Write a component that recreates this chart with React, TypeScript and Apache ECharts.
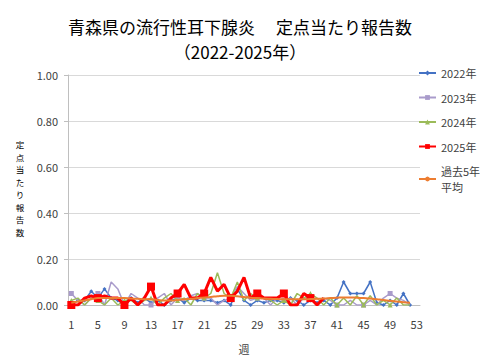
import React, { useEffect, useRef } from "react";
import * as echarts from "echarts";

const weeks: string[] = Array.from({ length: 53 }, (_, i) => String(i + 1));

const y2022: (number | null)[] = [
  0.0, 0.02, 0.02, 0.06, 0.03, 0.07, 0.03, 0.02, 0.0, 0.03,
  0.01, 0.03, 0.01, 0.02, 0.0, 0.02, 0.03, 0.01, 0.03, 0.02,
  0.02, 0.02, 0.01, 0.02, 0.0, 0.07, 0.02, 0.0, 0.02, 0.01,
  0.02, 0.02, 0.01, 0.03, 0.02, 0.0, 0.02, 0.01, 0.02, 0.0,
  0.03, 0.1, 0.05, 0.05, 0.05, 0.1, 0.01, 0.0, 0.02, 0.0,
  0.05, 0.0, null,
];

const y2023: (number | null)[] = [
  0.05, 0.02, 0.0, 0.03, 0.05, 0.0, 0.1, 0.07, 0.0, 0.05,
  0.03, 0.0, 0.0, 0.03, 0.05, 0.0, 0.03, 0.02, 0.04, 0.05,
  0.03, 0.03, 0.0, 0.02, 0.03, 0.08, 0.05, 0.02, 0.03, 0.03,
  0.0, 0.03, 0.02, 0.03, 0.0, 0.03, 0.03, 0.0, 0.03, 0.02,
  0.0, 0.0, 0.02, 0.0, 0.0, 0.02, 0.0, 0.03, 0.05, 0.03,
  0.02, 0.0, null,
];

const y2024: (number | null)[] = [
  0.02, 0.03, 0.0, 0.03, 0.02, 0.0, 0.03, 0.0, 0.02, 0.02,
  0.0, 0.02, 0.03, 0.0, 0.03, 0.05, 0.02, 0.03, 0.0, 0.05,
  0.03, 0.05, 0.14, 0.05, 0.03, 0.1, 0.02, 0.05, 0.03, 0.03,
  0.02, 0.0, 0.02, 0.0, 0.05, 0.03, 0.05, 0.03, 0.0, 0.03,
  0.0, 0.03, 0.0, 0.04, 0.0, 0.04, 0.0, 0.02, 0.0, 0.03,
  0.0, 0.0, null,
];

const y2025: (number | null)[] = [
  0.0, 0.0, 0.03, 0.04, 0.03, 0.04, 0.03, 0.03, 0.0, 0.03,
  0.0, 0.03, 0.08, 0.0, 0.0, 0.03, 0.05, 0.09, 0.03, 0.03,
  0.05, 0.12, 0.06, 0.09, 0.03, 0.06, 0.12, 0.03, 0.05, 0.03,
  0.03, 0.03, 0.05, 0.0, 0.0, 0.05, 0.03, 0.0, 0.03,
];

const avg5: (number | null)[] = [
  0.01, 0.015, 0.02, 0.025, 0.03, 0.03, 0.03, 0.03, 0.03, 0.028,
  0.027, 0.025, 0.025, 0.022, 0.02, 0.02, 0.022, 0.025, 0.027, 0.03,
  0.033, 0.035, 0.038, 0.04, 0.04, 0.038, 0.035, 0.032, 0.03, 0.028,
  0.027, 0.026, 0.025, 0.025, 0.025, 0.025, 0.026, 0.027, 0.028, 0.03,
  0.032, 0.033, 0.033, 0.032, 0.03, 0.028, 0.025, 0.022, 0.018, 0.015,
  0.012, 0.01, null,
];

const yTicks = [0, 0.2, 0.4, 0.6, 0.8, 1.0];
const yAxisTitle = "定点当たり報告数";

const FONT = "'Noto Sans CJK JP', 'Noto Sans', sans-serif";

export default function App() {
  const ref = useRef<HTMLDivElement>(null);
  useEffect(() => {
    document.body.style.margin = "0";
    if (!ref.current) return;
    const chart = echarts.init(ref.current, undefined, { renderer: "svg" });
    const mk = (
      name: string,
      data: (number | null)[],
      color: string,
      symbol: string,
      symbolSize: number,
      width: number,
      z: number
    ) => ({
      name,
      type: "line",
      data,
      symbol,
      symbolSize,
      showSymbol: true,
      z,
      lineStyle: { color, width },
      itemStyle: { color, borderWidth: 0 },
      connectNulls: false,
    });
    const step = 12.5;
    chart.setOption({
      animation: false,
      backgroundColor: "#ffffff",
      textStyle: { fontFamily: FONT },
      title: {
        text: "青森県の流行性耳下腺炎\u3000 定点当たり報告数\n（2022-2025年）",
        left: "center",
        top: 9,
        textStyle: {
          fontFamily: FONT,
          fontSize: 17,
          fontWeight: "normal",
          color: "#000000",
          lineHeight: 25,
        },
      },
      legend: {
        orient: "vertical",
        left: 418,
        top: 65,
        padding: 0,
        itemWidth: 17,
        itemHeight: 6,
        itemGap: 8.5,
        textStyle: { fontFamily: FONT, fontSize: 11, color: "#404040", lineHeight: 16 },
        formatter: (n: string) => (n === "過去5年平均" ? "過去5年\n平均" : n),
        data: ["2022年", "2023年", "2024年", "2025年", "過去5年平均"],
      },
      grid: { left: 68, right: 60, top: 75, bottom: 55 },
      xAxis: {
        type: "category",
        data: weeks,
        boundaryGap: true,
        name: "週",
        nameLocation: "middle",
        nameGap: 38,
        nameTextStyle: { fontFamily: FONT, fontSize: 11, color: "#404040" },
        axisLine: { lineStyle: { color: "#bfbfbf" } },
        axisTick: { interval: 3, alignWithLabel: true, length: 4, lineStyle: { color: "#bfbfbf" } },
        axisLabel: { interval: 3, fontSize: 11, color: "#404040", margin: 13, fontFamily: FONT },
        splitLine: { show: false },
      },
      yAxis: {
        type: "value",
        min: 0,
        max: 1,
        interval: 0.2,
        axisLine: { show: true, lineStyle: { color: "#bfbfbf" } },
        axisTick: { show: true, length: 4, lineStyle: { color: "#bfbfbf" } },
        axisLabel: {
          fontSize: 11,
          color: "#404040",
          margin: 10,
          fontFamily: FONT,
          formatter: (v: number) => (yTicks.some((t) => Math.abs(t - v) < 1e-9) ? v.toFixed(2) : ""),
        },
        splitLine: { lineStyle: { color: "#d9d9d9" } },
      },
      graphic: yAxisTitle.split("").map((ch, i) => ({
        type: "text",
        x: 20,
        y: 190 + (i - 4) * step,
        style: {
          text: ch,
          fontFamily: FONT,
          fontSize: 8.5,
          fill: "#000000",
          align: "center",
          verticalAlign: "top",
        },
      })),
      series: [
        mk("2022年", y2022, "#4472C4", "diamond", 4, 1.5, 2),
        mk("2023年", y2023, "#A99BCB", "rect", 5, 1.5, 3),
        mk("2024年", y2024, "#9BBB59", "triangle", 5, 1.5, 4),
        mk("2025年", y2025, "#FF0000", "rect", 8, 3, 5),
        {
          name: "過去5年平均",
          type: "line",
          data: avg5,
          smooth: true,
          symbol: "none",
          z: 6,
          lineStyle: { color: "#ED7D31", width: 2 },
          itemStyle: { color: "#ED7D31" },
        },
      ],
    });
    return () => chart.dispose();
  }, []);
  return <div ref={ref} style={{ width: 480, height: 360 }} />;
}
